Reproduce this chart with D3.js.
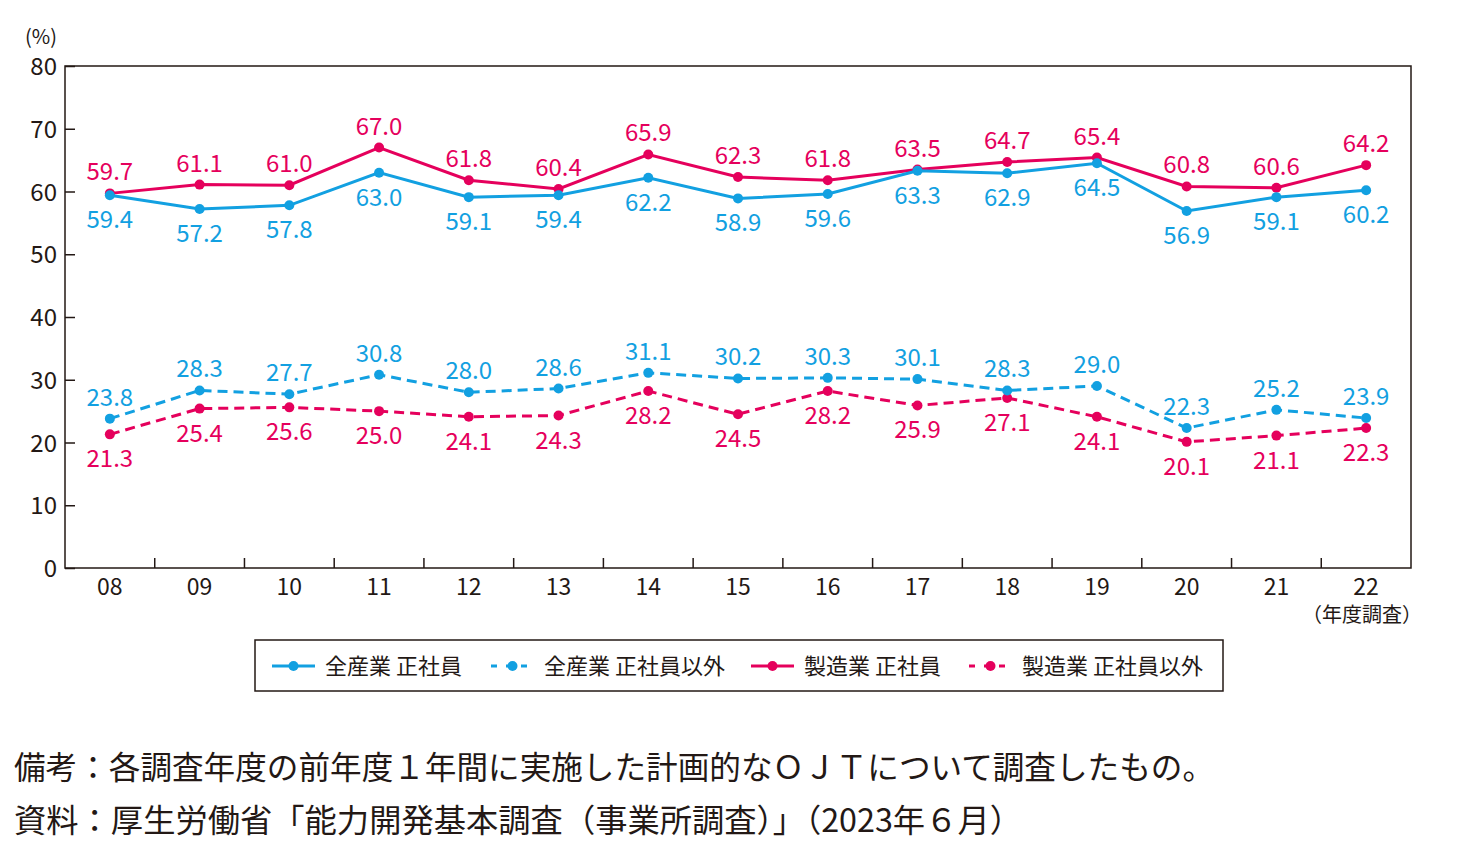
<!DOCTYPE html>
<html><head><meta charset="utf-8">
<script src="https://cdn.jsdelivr.net/npm/d3@7"></script>
<style>
body{margin:0;background:#fff;}
text{font-family:"Noto Sans CJK JP","Noto Sans",sans-serif;}
</style></head>
<body>
<svg id="chart" width="1460" height="853"></svg>
<script>
const years = ["08","09","10","11","12","13","14","15","16","17","18","19","20","21","22"];
const allRegular    = [59.4,57.2,57.8,63.0,59.1,59.4,62.2,58.9,59.6,63.3,62.9,64.5,56.9,59.1,60.2];
const allNonRegular = [23.8,28.3,27.7,30.8,28.0,28.6,31.1,30.2,30.3,30.1,28.3,29.0,22.3,25.2,23.9];
const mfgRegular    = [59.7,61.1,61.0,67.0,61.8,60.4,65.9,62.3,61.8,63.5,64.7,65.4,60.8,60.6,64.2];
const mfgNonRegular = [21.3,25.4,25.6,25.0,24.1,24.3,28.2,24.5,28.2,25.9,27.1,24.1,20.1,21.1,22.3];
const yTicks = [0,10,20,30,40,50,60,70,80];
const seriesNames = ["全産業 正社員","全産業 正社員以外","製造業 正社員","製造業 正社員以外"];

const BLUE = "#12a0e1", PINK = "#e5005c", INK = "#231815";

const series = [
  {name: seriesNames[2], values: mfgRegular, color: PINK, dash: null, pos: "above"},
  {name: seriesNames[3], values: mfgNonRegular, color: PINK, dash: "10,6", pos: "below"},
  {name: seriesNames[0], values: allRegular, color: BLUE, dash: null, pos: "below"},
  {name: seriesNames[1], values: allNonRegular, color: BLUE, dash: "10,6", pos: "above"}
];

const svg = d3.select("#chart");
const L = 65, R = 1411, T = 66, B = 568;

const x = d3.scaleBand().domain(years).range([L, R]).padding(0);
const y = d3.scaleLinear().domain([0, 80]).range([B, T]);

// frame
svg.append("rect").attr("x", L).attr("y", T).attr("width", R - L).attr("height", B - T)
  .attr("fill", "none").attr("stroke", INK).attr("stroke-width", 1.5);

// y axis
const yAxis = svg.append("g").attr("transform", `translate(${L},0)`)
  .call(d3.axisRight(y).tickValues(yTicks).tickSize(10).tickFormat(""));
yAxis.select(".domain").remove();
yAxis.selectAll("line").attr("stroke", INK).attr("stroke-width", 1.5);
svg.selectAll(".ylab").data(yTicks).join("text")
  .attr("x", 57).attr("y", d => y(d) + 9).attr("text-anchor", "end")
  .attr("font-size", 24).attr("fill", INK).text(d => d);
svg.append("text").attr("x", 41).attr("y", 44).attr("text-anchor", "middle")
  .attr("font-size", 20).attr("fill", INK).text("(%)");

// x axis
const boundaries = years.slice(1).map(d => x(d));
svg.selectAll(".xt").data(boundaries).join("line")
  .attr("x1", d => d).attr("x2", d => d).attr("y1", B).attr("y2", B - 10)
  .attr("stroke", INK).attr("stroke-width", 1.5);
svg.selectAll(".xlab").data(years).join("text")
  .attr("x", d => x(d) + x.bandwidth() / 2).attr("y", 595).attr("text-anchor", "middle")
  .attr("font-size", 23).attr("fill", INK).text(d => d);
svg.append("text").attr("x", 1422).attr("y", 622).attr("text-anchor", "end")
  .attr("font-size", 20).attr("fill", INK).text("（年度調査）");

const cx = i => x(years[i]) + x.bandwidth() / 2;
const line = d3.line().x((d, i) => cx(i)).y(d => y(d));

series.forEach(s => {
  const g = svg.append("g");
  g.append("path").datum(s.values).attr("d", line).attr("fill", "none")
    .attr("stroke", s.color).attr("stroke-width", 3)
    .attr("stroke-dasharray", s.dash);
  g.selectAll("circle").data(s.values).join("circle")
    .attr("cx", (d, i) => cx(i)).attr("cy", d => y(d)).attr("r", 5).attr("fill", s.color);
});
series.forEach(s => {
  svg.append("g").selectAll("text").data(s.values).join("text")
    .attr("x", (d, i) => cx(i))
    .attr("y", d => s.pos === "above" ? y(d) - 13 : y(d) + 33)
    .attr("text-anchor", "middle").attr("font-size", 24).attr("fill", s.color)
    .text(d => d.toFixed(1));
});

// legend
svg.append("rect").attr("x", 255).attr("y", 640).attr("width", 968).attr("height", 51)
  .attr("fill", "none").attr("stroke", INK).attr("stroke-width", 1.5);
const legendItems = [
  {name: seriesNames[0], color: BLUE, dash: null, x0: 272},
  {name: seriesNames[1], color: BLUE, dash: "6,9", x0: 491},
  {name: seriesNames[2], color: PINK, dash: null, x0: 751},
  {name: seriesNames[3], color: PINK, dash: "6,9", x0: 969}
];
legendItems.forEach(it => {
  const ly = 666;
  svg.append("line").attr("x1", it.x0).attr("x2", it.x0 + 43).attr("y1", ly).attr("y2", ly)
    .attr("stroke", it.color).attr("stroke-width", 3).attr("stroke-dasharray", it.dash);
  svg.append("circle").attr("cx", it.x0 + 21.5).attr("cy", ly).attr("r", 5).attr("fill", it.color);
  svg.append("text").attr("x", it.x0 + 53).attr("y", ly + 8).attr("font-size", 22)
    .attr("fill", INK).text(it.name);
});

// notes
svg.append("text").attr("x", 14).attr("y", 779).attr("font-size", 32).attr("fill", INK)
  .attr("textLength", 1200).attr("lengthAdjust", "spacingAndGlyphs")
  .text("備考：各調査年度の前年度１年間に実施した計画的なＯＪＴについて調査したもの。");
svg.append("text").attr("x", 14).attr("y", 832).attr("font-size", 32).attr("fill", INK)
  .attr("textLength", 1008).attr("lengthAdjust", "spacingAndGlyphs")
  .text("資料：厚生労働省「能力開発基本調査（事業所調査）」（2023年６月）");
</script>
</body></html>
